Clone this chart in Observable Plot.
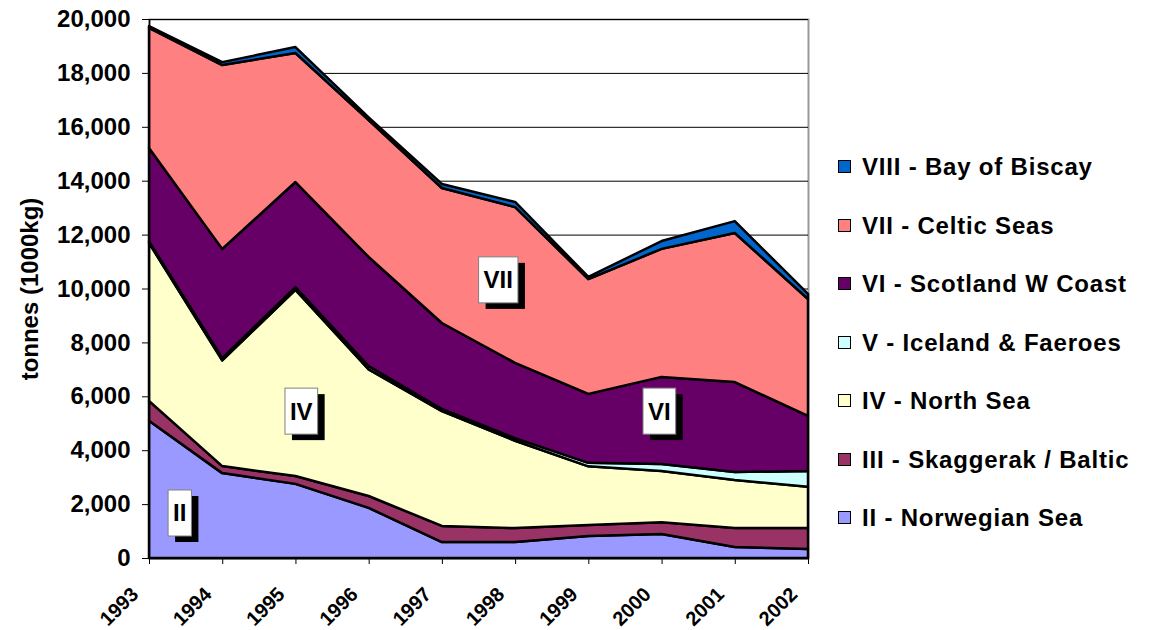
<!DOCTYPE html>
<html>
<head>
<meta charset="utf-8">
<script src="https://cdn.jsdelivr.net/npm/d3@7"></script>
<script src="https://cdn.jsdelivr.net/npm/@observablehq/plot@0.6"></script>
<style>
  html, body { margin: 0; padding: 0; background: #fff; }
  #wrap { position: relative; width: 1152px; height: 630px; overflow: hidden; font-family: "Liberation Sans", Arial, sans-serif; }
  #legend { position: absolute; left: 838px; top: 0; }
  .item { position: absolute; left: 0; white-space: nowrap; font-weight: bold; font-size: 24px; letter-spacing: 0.8px; line-height: 24px; }
  .sw { position: absolute; left: 0; top: 5px; width: 13px; height: 13px; border: 1px solid #000; box-sizing: border-box; }
  .lt { position: absolute; left: 24px; top: 0; }
</style>
</head>
<body>
<div id="wrap"><div id="chart"></div><div id="legend"></div></div>
<script>
// ---- data ----
const years = [1993, 1994, 1995, 1996, 1997, 1998, 1999, 2000, 2001, 2002];
const seriesNames = [
  "II - Norwegian Sea",
  "III - Skaggerak / Baltic",
  "IV - North Sea",
  "V - Iceland & Faeroes",
  "VI - Scotland W Coast",
  "VII - Celtic Seas",
  "VIII - Bay of Biscay"
];
const seriesColors = ["#9999FF", "#993366", "#FFFFCC", "#CCFFFF", "#660066", "#FF8080", "#0066CC"];
const norwegianSea = [5090, 3150, 2750, 1860, 590, 590, 820, 890, 410, 330];
const skaggerakBaltic = [740, 260, 290, 440, 600, 520, 400, 440, 700, 780];
const northSea = [5860, 3920, 6910, 4700, 4260, 3240, 2180, 1900, 1780, 1530];
const icelandFaeroes = [60, 90, 100, 120, 80, 100, 130, 260, 300, 590];
const scotlandWCoast = [3460, 4050, 3900, 4050, 3190, 2790, 2560, 3230, 3340, 2040];
const celticSeas = [4460, 6820, 4790, 5080, 5010, 5780, 4260, 4750, 5530, 4340];
const bayOfBiscay = [70, 110, 220, 100, 150, 190, 80, 290, 440, 190];
const yTicks = [0, 2000, 4000, 6000, 8000, 10000, 12000, 14000, 16000, 18000, 20000];
const areaLabels = ["II", "IV", "VI", "VII"];
const areaLabelYears = [1993.42, 1995.08, 1999.97, 1997.77];
const areaLabelValues = [1670, 5450, 5450, 10320];
const legendOrder = [6, 5, 4, 3, 2, 1, 0];

const seriesValues = [norwegianSea, skaggerakBaltic, northSea, icelandFaeroes, scotlandWCoast, celticSeas, bayOfBiscay];
const table = [];
seriesNames.forEach((s, i) => years.forEach((y, j) => table.push({year: y, series: s, value: seriesValues[i][j]})));

const plot = Plot.plot({
  width: 1152,
  height: 630,
  marginLeft: 149,
  marginRight: 344,
  marginTop: 19,
  marginBottom: 72,
  style: {fontFamily: '"Liberation Sans", Arial, sans-serif', fontWeight: "bold", color: "#000", background: "#fff", overflow: "visible"},
  x: {type: "linear", domain: [1993, 2002]},
  y: {domain: [0, 20000]},
  color: {domain: seriesNames, range: seriesColors},
  marks: [
    Plot.frame({stroke: "#999", strokeWidth: 2}),
    Plot.gridY(yTicks, {stroke: "#000", strokeOpacity: 1, strokeWidth: 1}),
    Plot.areaY(table, {x: "year", y: "value", fill: "series", z: "series", stroke: "#000", strokeWidth: 2.5, strokeLinejoin: "round", order: seriesNames}),
    Plot.ruleX([1993], {stroke: "#000", strokeWidth: 1.5}),
    Plot.ruleY([0], {stroke: "#000", strokeWidth: 1.5}),
    Plot.axisY(yTicks, {tickFormat: d3.format(","), tickSize: 7, tickPadding: 12, fontSize: 24, fontWeight: "bold", label: null}),
    Plot.axisX(years, {tickFormat: () => "", tickSize: 6, label: null}),
    Plot.text(years, {x: d => d, text: d => String(d), frameAnchor: "bottom", rotate: -45, textAnchor: "end", lineAnchor: "top", dx: -20, dy: 27, fontSize: 20, fontWeight: "bold"}),
    Plot.text(["tonnes (1000kg)"], {frameAnchor: "left", rotate: -90, dx: -119, textAnchor: "middle", fontSize: 24, fontWeight: "bold", text: d => d})
  ]
});
document.getElementById("chart").appendChild(plot);

// boxed area labels
const xs = plot.scale("x"), ys = plot.scale("y");
const svg = d3.select(plot);
const g = svg.append("g");
areaLabels.forEach((t, i) => {
  const cx = xs.apply(areaLabelYears[i]), cy = ys.apply(areaLabelValues[i]);
  const txt = g.append("text").attr("x", cx).attr("y", cy).attr("text-anchor", "middle").attr("dominant-baseline", "central")
    .attr("font-size", 24).attr("font-weight", "bold").attr("font-family", '"Liberation Sans", Arial, sans-serif').text(t);
  const w = txt.node().getBBox().width + 10, h = 46;
  g.insert("rect", "text").attr("x", cx - w / 2 + 7).attr("y", cy - h / 2 + 6).attr("width", w).attr("height", h).attr("fill", "#000");
  g.insert("rect", "text").attr("x", cx - w / 2).attr("y", cy - h / 2).attr("width", w).attr("height", h).attr("fill", "#fff").attr("stroke", "#808080").attr("stroke-width", 1);
});

// legend
const legend = d3.select("#legend");
legendOrder.forEach((k, i) => {
  const it = legend.append("div").attr("class", "item").style("top", (155 + i * 58.5) + "px");
  it.append("div").attr("class", "sw").style("background", seriesColors[k]);
  it.append("span").attr("class", "lt").text(seriesNames[k]);
});
</script>
</body>
</html>
